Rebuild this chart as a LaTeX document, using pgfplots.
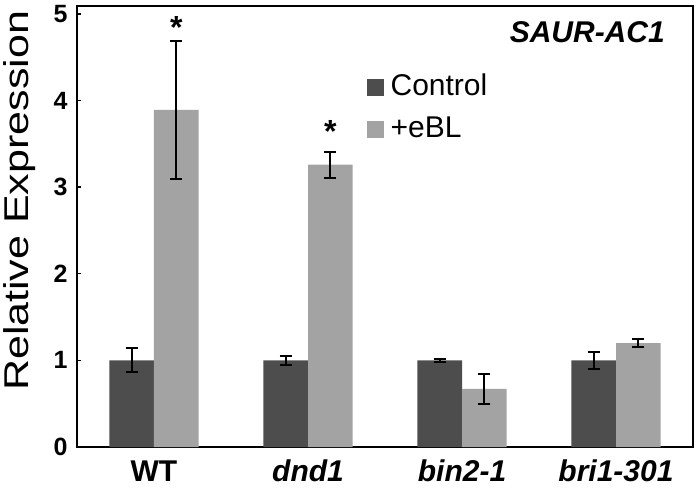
\documentclass[border=0pt]{standalone}
\usepackage{fontspec}
\setmainfont{Liberation Sans}
\usepackage{pgfplots}
\pgfplotsset{compat=1.18}
\definecolor{ctrl}{HTML}{4D4D4D}
\definecolor{ebl}{HTML}{A3A3A3}
\begin{document}
\begin{tikzpicture}
\useasboundingbox (-77pt,-40pt) rectangle (621pt,447pt);
\begin{axis}[
  width=616pt, height=441pt, scale only axis,
  xmin=-0.5, xmax=3.5, ymin=0, ymax=5.09,
  ybar=0pt, bar width=0.29,
  axis line style={line width=2.5pt},
  xtick={0,1,2,3},
  xticklabels={\textbf{WT},\textbf{\textit{dnd1}},\textbf{\textit{bin2-1}},\textbf{\textit{bri1-301}}},
  xtick style={draw=none},
  xticklabel style={font=\fontsize{30}{34}\selectfont, anchor=base, yshift=-34pt},
  ytick={0,1,2,3,4,5}, ytick pos=left,
  ytick style={line width=1.5pt, black},
  tick align=inside, major tick length=4pt,
  yticklabel style={font=\bfseries\fontsize{25}{28}\selectfont, anchor=east, xshift=-6pt},
  /pgf/number format/assume math mode=true,
  ylabel={\scalebox{1}[0.8]{\fontsize{43}{48}\selectfont Relative Expression}},
  every axis y label/.style={at={(rel axis cs:-0.0795,0.558)}, rotate=90, anchor=base},
  legend style={at={(rel axis cs:0.465,0.855)}, anchor=north west, draw=none, fill=none,
    font=\fontsize{30}{33}\selectfont, row sep=11pt,
    nodes={text height=21pt, text depth=6pt, inner sep=2pt, inner xsep=7pt}},
  legend cell align=left,
  legend image code/.code={\fill[#1] (0pt,-8.5pt) rectangle (17pt,8.5pt);},
  error bars/error bar style={line width=2pt, black},
  error bars/error mark options={rotate=90, mark size=6pt, line width=2pt, black},
]
\addplot[fill=ctrl, draw=none, error bars/.cd, y dir=both, y explicit] coordinates {
  (0,1.00) +- (0,0.14)
  (1,1.00) +- (0,0.05)
  (2,1.00) +- (0,0.02)
  (3,1.00) +- (0,0.10)
};
\addlegendentry{Control}
\addplot[fill=ebl, draw=none, error bars/.cd, y dir=both, y explicit] coordinates {
  (0,3.89) +- (0,0.80)
  (1,3.26) +- (0,0.15)
  (2,0.67) +- (0,0.17)
  (3,1.20) +- (0,0.05)
};
\addlegendentry{+eBL}
\node[anchor=base, font=\bfseries\fontsize{32}{36}\selectfont, inner sep=0pt] at (axis cs:0.145,4.72) {*};
\node[anchor=base, font=\bfseries\fontsize{32}{36}\selectfont, inner sep=0pt] at (axis cs:1.145,3.51) {*};
\node[anchor=base east, font=\bfseries\itshape\fontsize{30}{34}\selectfont, inner sep=0pt] at (rel axis cs:0.9545,0.918) {SAUR-AC1};
\end{axis}
\end{tikzpicture}
\end{document}
